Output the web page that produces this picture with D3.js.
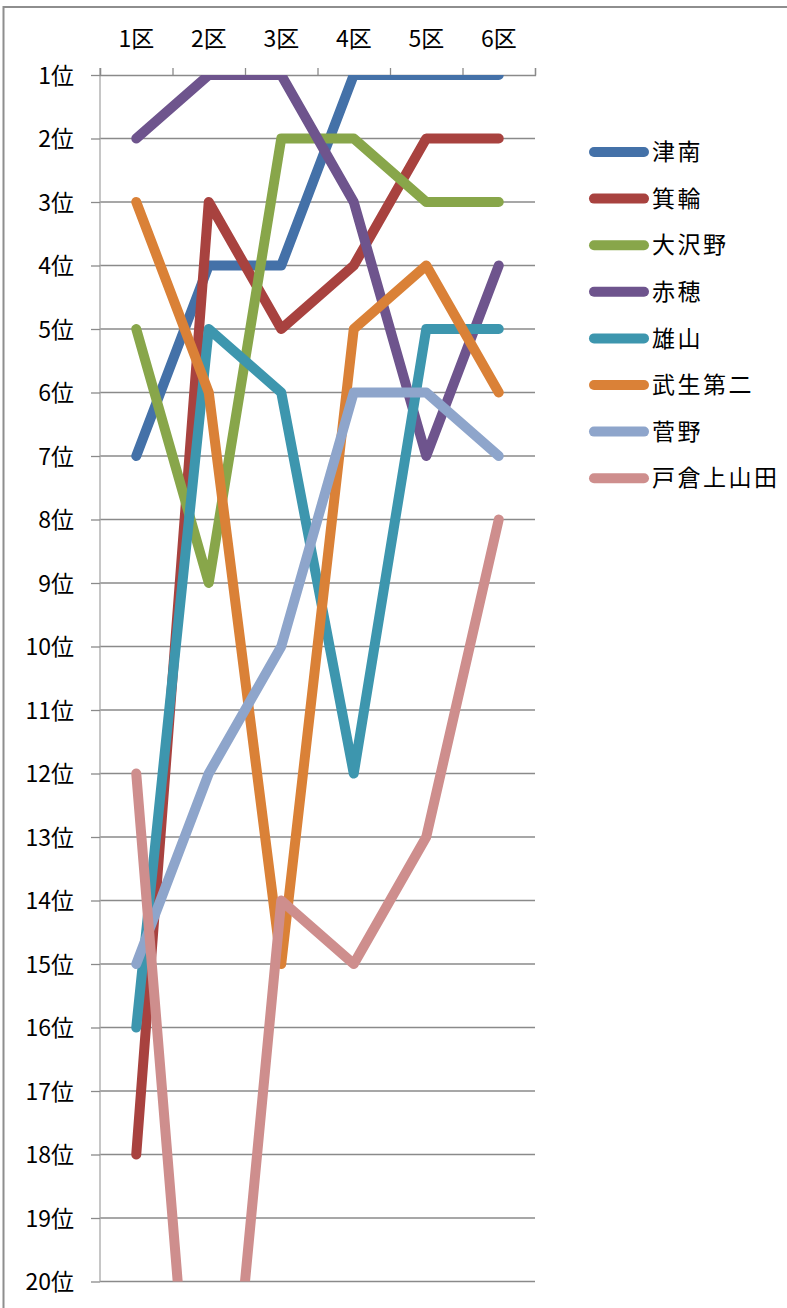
<!DOCTYPE html>
<html lang="ja">
<head>
<meta charset="UTF-8">
<title>区間順位</title>
<script src="https://cdn.jsdelivr.net/npm/d3@7"></script>
<style>
  body { margin: 0; background: #fff; }
  svg text { font-family: "Noto Sans CJK JP", "Noto Sans", sans-serif; fill: #000; }
</style>
</head>
<body>
<div id="chart"></div>
<script>
// categories (sections) and ranks
const sections = ['1区', '2区', '3区', '4区', '5区', '6区'];
const ranks = d3.range(1, 21);

// series: rank after each section
const teams = ['津南', '箕輪', '大沢野', '赤穂', '雄山', '武生第二', '菅野', '戸倉上山田'];
const tsunan = [7, 4, 4, 1, 1, 1];
const minowa = [18, 3, 5, 4, 2, 2];
const osawano = [5, 9, 2, 2, 3, 3];
const akaho = [2, 1, 1, 3, 7, 4];
const oyama = [16, 5, 6, 12, 5, 5];
const takefu2 = [3, 6, 15, 5, 4, 6];
const sugano = [15, 12, 10, 6, 6, 7];
const togura = [12, 26, 14, 15, 13, 8];
const seriesValues = [tsunan, minowa, osawano, akaho, oyama, takefu2, sugano, togura];
const colors = ['#4471a8', '#a8423f', '#88a64a', '#6e548d', '#3d96ae', '#da8137', '#8ea5cb', '#ce8e8d'];

const w = 787, h = 1308;
const plotLeft = 100, plotRight = 535, plotTop = 75, plotBottom = 1281.5;

const svg = d3.select('#chart').append('svg')
  .attr('width', w).attr('height', h);

// chart area border (left and top visible)
svg.append('path')
  .attr('d', `M3.5,${h} V7 H${w}`)
  .attr('fill', 'none')
  .attr('stroke', '#8e8e8e')
  .attr('stroke-width', 2);

const x = d3.scaleBand().domain(sections).range([plotLeft, plotRight]);
const xEdge = d3.scaleLinear().domain([0, sections.length]).range([plotLeft, plotRight]);
const y = d3.scaleLinear().domain([1, 20]).range([plotTop, plotBottom]);

// horizontal gridlines
svg.append('g')
  .selectAll('line')
  .data(ranks.slice(1))
  .join('line')
  .attr('x1', plotLeft).attr('x2', plotRight)
  .attr('y1', d => y(d)).attr('y2', d => y(d))
  .attr('stroke', '#8a8a8a')
  .attr('stroke-width', 1.3);

// y axis
const yAxis = svg.append('g')
  .attr('transform', `translate(${plotLeft},0)`)
  .call(d3.axisLeft(y).tickValues(ranks).tickFormat(d => d + '位').tickSize(9).tickPadding(17));
yAxis.select('.domain').attr('stroke', '#a8a8a8').attr('stroke-width', 1.3)
  .attr('d', `M0,${plotTop - 7}V${plotBottom}`);
yAxis.selectAll('.tick line').attr('stroke', '#8a8a8a').attr('stroke-width', 1.3);
yAxis.selectAll('.tick text').style('font-size', '23px').attr('dy', '0.35em');

// x axis on top: tick marks at category edges
const xTicks = svg.append('g')
  .attr('transform', `translate(0,${plotTop})`)
  .call(d3.axisTop(xEdge).tickValues(d3.range(0, sections.length + 1)).tickFormat('').tickSize(7));
xTicks.select('.domain').attr('stroke', '#8a8a8a').attr('stroke-width', 1.3);
xTicks.selectAll('.tick line').attr('stroke', '#8a8a8a').attr('stroke-width', 1.3);

// x axis labels
const xLabels = svg.append('g')
  .attr('transform', `translate(0,${plotTop})`)
  .call(d3.axisTop(x).tickSize(0).tickPadding(28));
xLabels.select('.domain').remove();
xLabels.selectAll('.tick text').style('font-size', '23px');

// lines clipped to plot area
svg.append('clipPath').attr('id', 'plot-clip')
  .append('rect')
  .attr('x', plotLeft).attr('y', plotTop)
  .attr('width', plotRight - plotLeft).attr('height', plotBottom - plotTop);

const line = d3.line()
  .x((d, i) => x(sections[i]) + x.bandwidth() / 2)
  .y(d => y(d));

svg.append('g')
  .attr('clip-path', 'url(#plot-clip)')
  .selectAll('path')
  .data(seriesValues)
  .join('path')
  .attr('d', d => line(d))
  .attr('fill', 'none')
  .attr('stroke', (d, i) => colors[i])
  .attr('stroke-width', 10)
  .attr('stroke-linecap', 'round')
  .attr('stroke-linejoin', 'round');

// legend
const legend = svg.append('g').attr('transform', 'translate(594,152)');
const item = legend.selectAll('g')
  .data(teams)
  .join('g')
  .attr('transform', (d, i) => `translate(0,${i * 46.6})`);
item.append('line')
  .attr('x1', 0).attr('x2', 50)
  .attr('stroke', (d, i) => colors[i])
  .attr('stroke-width', 10)
  .attr('stroke-linecap', 'round');
item.append('text')
  .attr('x', 58)
  .attr('dy', '0.36em')
  .style('font-size', '23px')
  .style('letter-spacing', '2.5px')
  .text(d => d);
</script>
</body>
</html>
